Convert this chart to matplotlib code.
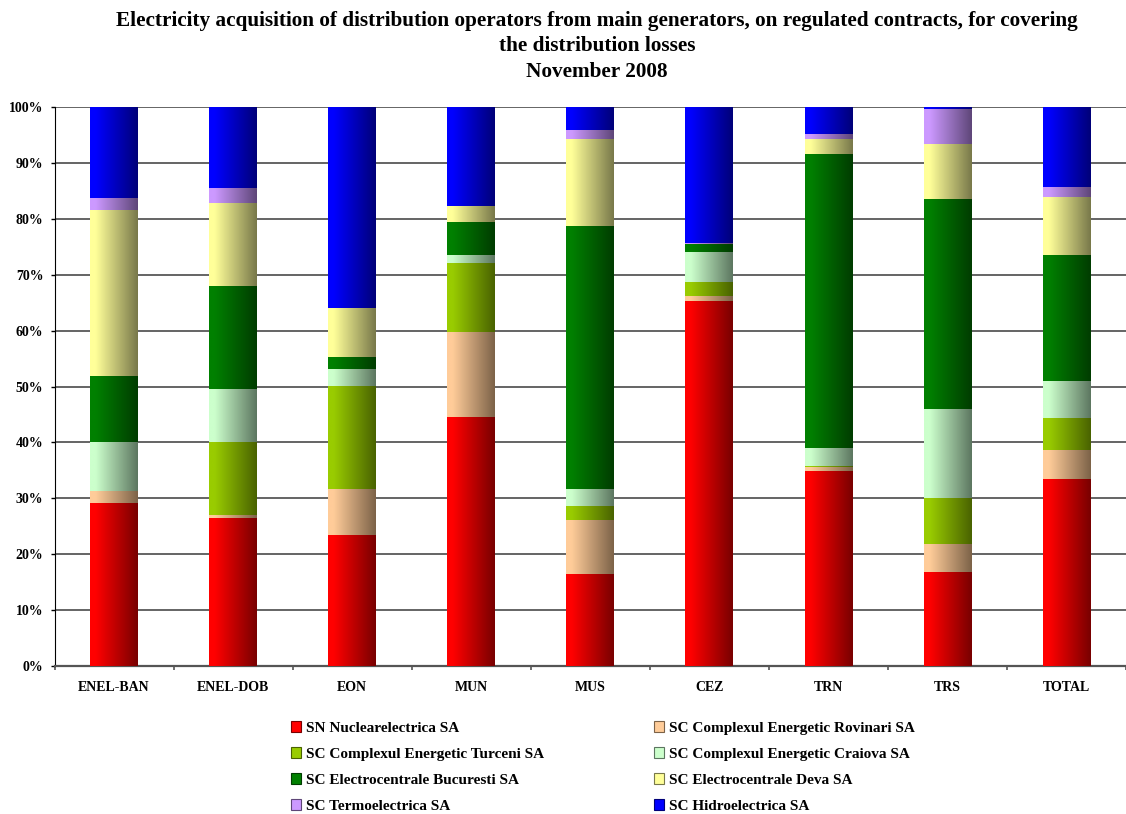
import numpy as np
import matplotlib
matplotlib.use("Agg")
import matplotlib.pyplot as plt
from matplotlib.colors import LinearSegmentedColormap
from matplotlib.patches import Patch
from matplotlib.ticker import PercentFormatter

plt.rcParams["font.family"] = ["Liberation Serif", "DejaVu Serif"]
plt.rcParams["font.weight"] = "bold"

operators = ["ENEL-BAN", "ENEL-DOB", "EON", "MUN", "MUS", "CEZ", "TRN", "TRS", "TOTAL"]

generators = [
    "SN Nuclearelectrica SA",
    "SC Complexul Energetic Rovinari SA",
    "SC Complexul Energetic Turceni SA",
    "SC Complexul Energetic Craiova SA",
    "SC Electrocentrale Bucuresti SA",
    "SC Electrocentrale Deva SA",
    "SC Termoelectrica SA",
    "SC Hidroelectrica SA",
]

# share of each generator (%) per operator
nuclearelectrica = [29.2, 26.5, 23.4, 44.6, 16.4, 65.3, 34.9, 16.8, 33.5]
rovinari = [2.1, 0.5, 8.3, 15.1, 9.8, 0.9, 0.7, 5.0, 5.1]
turceni = [0.0, 13.0, 18.3, 12.4, 2.4, 2.5, 0.1, 8.3, 5.8]
craiova = [8.7, 9.6, 3.1, 1.4, 3.1, 5.4, 3.3, 15.9, 6.6]
bucuresti = [11.9, 18.4, 2.1, 5.9, 47.0, 1.4, 52.6, 37.5, 22.5]
deva = [29.7, 14.8, 8.8, 2.9, 15.6, 0.0, 2.6, 9.9, 10.4]
termoelectrica = [2.1, 2.7, 0.0, 0.0, 1.6, 0.1, 1.0, 6.2, 1.8]
hidroelectrica = [16.3, 14.5, 36.0, 17.7, 4.1, 24.4, 4.8, 0.4, 14.3]

series = [nuclearelectrica, rovinari, turceni, craiova, bucuresti, deva,
          termoelectrica, hidroelectrica]

# (bright left, dark right) shading of every series
shades = [
    ("#ff0000", "#780000"),
    ("#ffcc99", "#7c6248"),
    ("#99cc00", "#496200"),
    ("#ccffcc", "#5c7660"),
    ("#008000", "#003c00"),
    ("#ffff99", "#78784a"),
    ("#cc99ff", "#5e4678"),
    ("#0000ff", "#000078"),
]

fig = plt.figure(figsize=(11.26, 8.14), dpi=100)
ax = fig.add_axes([54.5 / 1126, 1 - 666 / 814, 1 - 54.5 / 1126, (666 - 107) / 814])

x = np.arange(len(operators))
grad = np.linspace(0, 1, 256).reshape(1, -1)
bottom = np.zeros(len(operators))
for vals, (c1, c2) in zip(series, shades):
    cmap = LinearSegmentedColormap.from_list("g", [(0, c1), (0.12, c1), (1, c2)])
    bars = ax.bar(x, vals, 0.4, bottom=bottom, color="none", edgecolor="none", zorder=3)
    for b in bars:
        if b.get_height() <= 0:
            continue
        ax.imshow(grad, cmap=cmap, aspect="auto", zorder=3,
                  extent=(b.get_x(), b.get_x() + b.get_width(),
                          b.get_y(), b.get_y() + b.get_height()))
    bottom += np.array(vals)

ax.set_xlim(-0.5, len(operators) - 0.5)
ax.set_ylim(0, 100)
ax.set_yticks(np.arange(0, 101, 10))
ax.yaxis.set_major_formatter(PercentFormatter(xmax=100, decimals=0))
ax.yaxis.grid(True, color="#3a3a3a", lw=1.1)
ax.set_axisbelow(True)

ax.set_xticks(np.arange(-0.5, len(operators)), [""] * (len(operators) + 1))
ax.set_xticks(x, operators, minor=True)
ax.tick_params(axis="x", which="major", length=3, color="#555555", width=1.2)
ax.tick_params(axis="x", which="minor", length=0, pad=11, labelsize=10)
ax.tick_params(axis="y", length=3, width=1, pad=5, labelsize=10)

for s in ["top", "right"]:
    ax.spines[s].set_visible(False)
ax.spines["bottom"].set_color("#555555")
ax.spines["bottom"].set_linewidth(1.6)
ax.spines["left"].set_color("black")

fig.text(597 / 1126, 1 - 11 / 814,
         "Electricity acquisition of distribution operators from main generators, on regulated contracts, for covering\n"
         "the distribution losses\nNovember 2008",
         ha="center", va="top", fontsize=15.3, fontweight="bold", linespacing=1.36)

handles = [Patch(facecolor=c1, edgecolor=c2, lw=0.8) for c1, c2 in shades]
for col, xpos in [(0, 291), (1, 654)]:
    idx = [col, col + 2, col + 4, col + 6]
    fig.legend([handles[i] for i in idx], [generators[i] for i in idx],
               loc="upper left", bbox_to_anchor=(xpos / 1126, 1 - 721 / 814),
               frameon=False, fontsize=11, handlelength=0.65, handleheight=0.7,
               handletextpad=0.3, labelspacing=0.81, borderpad=0, borderaxespad=0)

fig.savefig("out.png", dpi=100)
